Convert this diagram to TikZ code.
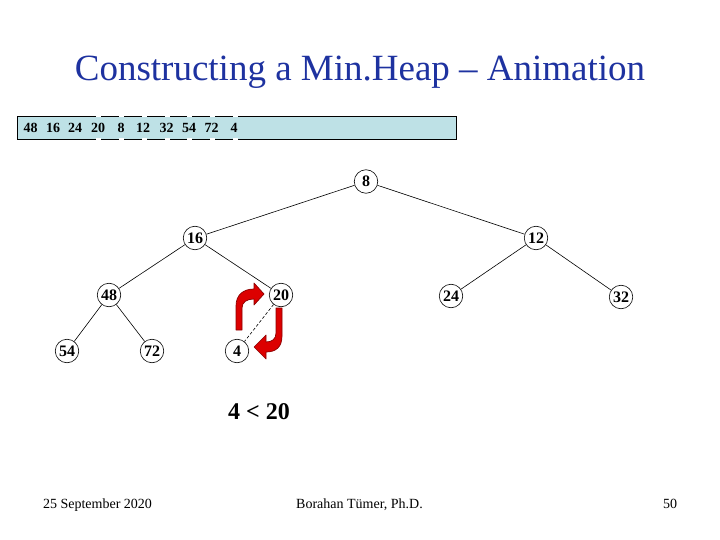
\documentclass[tikz,border=0pt]{standalone}
\usepackage{fontspec}
\setmainfont{Liberation Serif}
\begin{document}
\begin{tikzpicture}[x=1pt,y=-1pt,
  hnode/.style={circle,draw,line width=0.6pt,minimum size=23.5pt,inner sep=0pt,font=\fontsize{16}{16}\selectfont\bfseries},
  edge/.style={line width=0.6pt},
  arr/.style={font=\fontsize{14}{14}\selectfont\bfseries,inner sep=0pt,anchor=base},
  swaparrow/.style={fill={rgb,255:red,220;green,0;blue,0},draw={rgb,255:red,140;green,0;blue,0},line width=0.7pt,line join=round},
  foot/.style={font=\fontsize{14}{14}\selectfont,inner sep=0pt,anchor=base}]
\definecolor{titleblue}{RGB}{30,50,160}
\useasboundingbox (0,0) rectangle (720,540);
\fill[white] (0,0) rectangle (720,540);
% title
\node[font=\fontsize{37}{37}\selectfont,text=titleblue,inner sep=0pt,anchor=base] (title) at (360,81) {Constructing a Min.Heap -- Animation};
% array box
\draw[fill={rgb,255:red,190;green,225;blue,230},line width=0.8pt] (17,116) rectangle (456,139);
\foreach \gx in {98,121,144,167,189,212,235}{
  \fill[white] (\gx-2.5,115) rectangle (\gx+2.5,117);
  \fill[white] (\gx-2.5,138) rectangle (\gx+2.5,140);
}
\node[arr] (a1) at (30.5,133) {48};
\node[arr] (a2) at (53,133) {16};
\node[arr] (a3) at (75,133) {24};
\node[arr] (a4) at (98,133) {20};
\node[arr] (a5) at (121,133) {8};
\node[arr] (a6) at (143,133) {12};
\node[arr] (a7) at (166.5,133) {32};
\node[arr] (a8) at (189,133) {54};
\node[arr] (a9) at (211.5,133) {72};
\node[arr] (a10) at (234,133) {4};
% tree nodes
\node[hnode] (n8) at (366,181.5) {8};
\node[hnode] (n16) at (195,238) {16};
\node[hnode] (n12) at (536,238) {12};
\node[hnode] (n48) at (109,295) {48};
\node[hnode] (n20) at (281,295) {20};
\node[hnode] (n24) at (451,296) {24};
\node[hnode] (n32) at (621,297) {32};
\node[hnode] (n54) at (67,351) {54};
\node[hnode] (n72) at (152,351) {72};
\node[hnode] (n4) at (237,351) {4};
% edges
\draw[edge] (n8) -- (n16);
\draw[edge] (n8) -- (n12);
\draw[edge] (n16) -- (n48);
\draw[edge] (n16) -- (n20);
\draw[edge] (n12) -- (n24);
\draw[edge] (n12) -- (n32);
\draw[edge] (n48) -- (n54);
\draw[edge] (n48) -- (n72);
\draw[edge,dashed,dash pattern=on 3pt off 2pt] (n20) -- (n4);
% swap arrows
\draw[swaparrow] (236,330) -- (236,306) .. controls (236,295) and (243,289) .. (254,289) -- (254,283) -- (264,294) -- (254,305) -- (254,299) .. controls (247,299) and (242,302) .. (242,308) -- (242,330) -- cycle;
\draw[swaparrow] (276,308) -- (282,308) -- (282,336) .. controls (282,347) and (276,352) .. (266,352) -- (266,359) -- (254,347) -- (266,335) -- (266,342) .. controls (272,342) and (276,339) .. (276,333) -- cycle;
% comparison
\node[font=\fontsize{24}{24}\selectfont\bfseries,inner sep=0pt,anchor=base] (cmp) at (259,419) {4 < 20};
% footer
\node[foot] (date) at (97.5,508) {25 September 2020};
\node[foot] (author) at (359.5,508) {Borahan Tümer, Ph.D.};
\node[foot] (page) at (670,508) {50};
\end{tikzpicture}
\end{document}
